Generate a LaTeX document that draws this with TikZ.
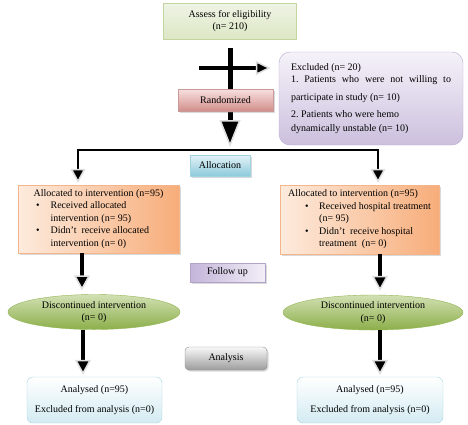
\documentclass[tikz,border=0pt]{standalone}
\usepackage{fontspec}
\setmainfont{Liberation Serif}
\usetikzlibrary{arrows.meta,shapes.geometric,shadows}

\definecolor{greenTop}{HTML}{EFF4E6}
\definecolor{greenBot}{HTML}{DCE7C4}
\definecolor{greenLine}{HTML}{C4D59F}
\definecolor{exclTop}{HTML}{F5F2F9}
\definecolor{exclBot}{HTML}{CCC0DE}
\definecolor{exclLine}{HTML}{B8A9CF}
\definecolor{randTop}{HTML}{F7E1E0}
\definecolor{randBot}{HTML}{D28E8B}
\definecolor{randLine}{HTML}{C99A98}
\definecolor{alloTop}{HTML}{E2F3F7}
\definecolor{alloBot}{HTML}{8DCADB}
\definecolor{alloLine}{HTML}{9FD3E0}
\definecolor{peachL}{HTML}{FDEBDD}
\definecolor{peachR}{HTML}{F7AD7A}
\definecolor{peachLine}{HTML}{F4B58A}
\definecolor{folL}{HTML}{C3B5D9}
\definecolor{folR}{HTML}{F2EEF7}
\definecolor{folLine}{HTML}{B3A3CB}
\definecolor{ellTop}{HTML}{D2E0B3}
\definecolor{ellBot}{HTML}{8CAF4A}
\definecolor{ellLine}{HTML}{93B553}
\definecolor{anaTop}{HTML}{F8F8F8}
\definecolor{anaBot}{HTML}{9C9C9C}
\definecolor{anaLine}{HTML}{8C8C8C}
\definecolor{anlTop}{HTML}{FFFFFF}
\definecolor{anlBot}{HTML}{D3EBF2}
\definecolor{anlLine}{HTML}{A6D5E2}

\begin{document}
\begin{tikzpicture}[x=1pt, y=-1pt,
    font=\fontsize{10}{12.5}\selectfont,
    box/.style={draw, align=center, inner sep=2pt},
    tag/.style={box, drop shadow={shadow xshift=1.5pt, shadow yshift=-1.5pt, opacity=0.3}},
    mainarrow/.style={line width=5pt, -{Triangle[width=21pt, length=27pt, color=gray!25, fill=black, line width=1.5pt]}},
    sidearrow/.style={line width=4.5pt, -{Triangle[width=14pt, length=15pt, color=gray!25, fill=black, line width=1.5pt]}},
    downarrow/.style={line width=4pt, -{Triangle[width=16pt, length=15pt, color=gray!25, fill=black, line width=1.5pt]}},
    branch/.style={line width=2.5pt, line join=miter,
        {Triangle[width=15pt, length=14pt, color=gray!25, fill=black, line width=1.5pt]}-{Triangle[width=15pt, length=14pt, color=gray!25, fill=black, line width=1.5pt]}}]

    \useasboundingbox (0, 0) rectangle (468, 424);

    % enrolment
    \node[box, draw=greenLine, top color=greenTop, bottom color=greenBot,
        minimum width=133pt, minimum height=36pt] (assess) at (230, 21) {Assess for eligibility\\(n= 210)};
    \node[box, draw=exclLine, top color=exclTop, bottom color=exclBot, rounded corners=11pt,
        minimum width=184pt, minimum height=93pt, align=left] (excl) at (371, 98.5)
        {Excluded (n= 20)\\
         \makebox[160pt][s]{1.\ Patients who were not willing to}\\[5pt]
         participate in study (n= 10)\\[4.5pt]
         2.\ Patients who were hemo\\[1.5pt]
         dynamically unstable (n= 10)};
    \coordinate (split) at (230, 150);
    \coordinate (exfrom) at (199, 68);

    \draw[mainarrow, shorten <=9pt, shorten >=3pt] (assess) -- (split);
    \draw[sidearrow, shorten >=8pt] (exfrom) -- (excl.west |- exfrom);

    \node[tag, draw=randLine, top color=randTop, bottom color=randBot,
        minimum width=95pt, minimum height=22pt] (rand) at (225.5, 100) {Randomized};

    % allocation
    \node[tag, draw=alloLine, top color=alloTop, bottom color=alloBot,
        minimum width=60pt, minimum height=21pt] (alloc) at (220, 165.5) {Allocation};
    \node[tag, draw=peachLine, left color=peachL, right color=peachR,
        minimum width=161pt, minimum height=68pt, align=left] (allocL) at (98.5, 219)
        {Allocated to intervention (n=95)\\
         \hspace*{2.5pt}\textbullet\hspace{11pt}Received allocated\\
         \hspace*{17pt}intervention (n= 95)\\
         \hspace*{2.5pt}\textbullet\hspace{11pt}Didn’t\ \ receive allocated\\
         \hspace*{17pt}intervention (n= 0)};
    \node[tag, draw=peachLine, left color=peachL, right color=peachR,
        minimum width=159pt, minimum height=69pt, align=left] (allocR) at (359.5, 219.5)
        {Allocated to intervention (n=95)\\
         \hspace*{17pt}\textbullet\hspace{10.5pt}Received hospital treatment\\
         \hspace*{31pt}(n= 95)\\
         \hspace*{17pt}\textbullet\hspace{10.5pt}Didn’t\ \ receive hospital\\
         \hspace*{31pt}treatment\ \ (n= 0)};

    \draw[branch, shorten <=2pt, shorten >=2pt] ([xshift=-20.5pt]allocL.north) |- (split) -| ([xshift=18.5pt]allocR.north);

    % follow up
    \node[tag, draw=folLine, left color=folL, right color=folR,
        minimum width=75pt, minimum height=19pt] (follow) at (227.5, 272.5) {Follow up};
    \node[ellipse, draw=ellLine, top color=ellTop, bottom color=ellBot, inner sep=0pt, align=center,
        minimum width=172pt, minimum height=35pt] (ellL) at (94, 312) {Discontinued intervention\\(n= 0)};
    \node[ellipse, draw=ellLine, top color=ellTop, bottom color=ellBot, inner sep=0pt, align=center,
        minimum width=180pt, minimum height=35pt] (ellR) at (373, 312.5) {Discontinued intervention\\(n= 0)};

    % analysis
    \node[tag, draw=anaLine, top color=anaTop, bottom color=anaBot, rounded corners=4pt,
        minimum width=82pt, minimum height=23pt] (analysis) at (226, 358.5) {Analysis};
    \node[box, draw=anlLine, top color=anlTop, bottom color=anlBot, rounded corners=6pt,
        minimum width=135pt, minimum height=46pt] (anL) at (94.5, 400) {Analysed (n=95)\\[8pt]Excluded from analysis (n=0)};
    \node[box, draw=anlLine, top color=anlTop, bottom color=anlBot, rounded corners=6pt,
        minimum width=146pt, minimum height=46pt] (anR) at (370, 400) {Analysed (n=95)\\[8pt]Excluded from analysis (n=0)};

    % arrows
    \draw[downarrow, shorten >=4pt] ([xshift=-16.5pt]allocL.south) -- ([xshift=-12pt]ellL.north);
    \draw[downarrow, shorten >=4pt] ([xshift=20.5pt]allocR.south) -- ([xshift=7pt]ellR.north);
    \draw[downarrow, shorten >=2pt] ([xshift=-11pt]ellL.south) -- ([xshift=-11.5pt]anL.north);
    \draw[downarrow, shorten >=2pt] ([xshift=7pt]ellR.south) -- ([xshift=10pt]anR.north);

\end{tikzpicture}
\end{document}
